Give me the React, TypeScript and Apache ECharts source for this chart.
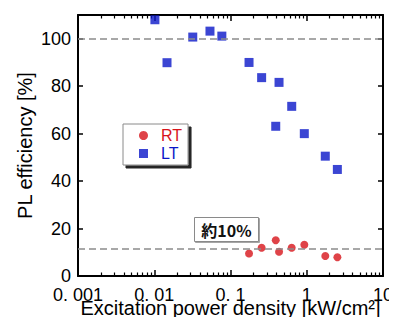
import React, { useEffect, useRef } from "react";
import * as echarts from "echarts";

// ---- data ----
const ltPower = [0.0102, 0.0147, 0.032, 0.0538, 0.077, 0.175, 0.256, 0.433, 0.635, 0.392, 0.929, 1.75, 2.52];
const ltEfficiency = [108.0, 89.9, 100.7, 103.2, 101.1, 90.0, 83.6, 81.6, 71.5, 63.1, 60.0, 50.5, 44.9];

const rtPower = [0.175, 0.256, 0.392, 0.433, 0.635, 0.929, 1.75, 2.52];
const rtEfficiency = [9.5, 11.9, 15.1, 10.2, 11.9, 13.2, 8.4, 7.9];

const refLevels = [100, 11.4];

const xTickExponents = [-3, -2, -1, 0, 1];
const xTickLabels = ["0. 001", "0. 01", "0. 1", "1", "10"];
const yTickLabels = ["0", "20", "40", "60", "80", "100"];

const annotationText = "約10%";

const RED = "#d7141a";
const BLUE = "#0a16c8";
const FONT = "'Liberation Sans', Arial, sans-serif";

function xLabel(v: number): string {
  const e = Math.round(Math.log10(v));
  const i = xTickExponents.indexOf(e);
  return i >= 0 ? xTickLabels[i] : "";
}

function makeX() {
  return {
    type: "log" as const,
    logBase: 10,
    min: 0.001,
    max: 10,
    splitLine: { show: false },
    axisLine: { show: true, onZero: false, lineStyle: { color: "#000", width: 2 } },
    axisTick: { show: true, inside: true, length: 6, lineStyle: { color: "#000", width: 1.5 } },
    minorTick: { show: true, splitNumber: 9, length: 3.5, lineStyle: { color: "#000", width: 1.2 } },
    minorSplitLine: { show: false },
  };
}
function makeY() {
  return {
    type: "value" as const,
    min: 0,
    max: 110,
    interval: 20,
    splitLine: { show: false },
    axisLine: { show: true, onZero: false, lineStyle: { color: "#000", width: 2 } },
    axisTick: { show: true, inside: true, length: 5, lineStyle: { color: "#000", width: 1.5 } },
  };
}

export default function App() {
  const ref = useRef<HTMLDivElement>(null);

  useEffect(() => {
    if (!ref.current) return;
    const chart = echarts.init(ref.current, null, { renderer: "svg" });

    chart.setOption({
      animation: false,
      backgroundColor: "#fff",
      grid: { left: 78, right: 14, top: 15, bottom: 49, containLabel: false, outerBoundsMode: "none" },
      xAxis: [
        {
          ...makeX(),
          position: "bottom",
          name: "Excitation power density [kW/cm²]",
          nameLocation: "middle",
          nameGap: 22,
          nameMoveOverlap: false,
          nameTextStyle: { color: "#000", fontSize: 20, fontFamily: FONT },
          axisLabel: {
            color: "#000",
            fontSize: 18,
            fontFamily: FONT,
            margin: 10,
            formatter: (v: number) => xLabel(v),
          },
        },
        {
          ...makeX(),
          position: "top",
          axisLabel: { show: false },
        },
      ],
      yAxis: [
        {
          ...makeY(),
          position: "left",
          name: "PL efficiency [%]",
          nameLocation: "middle",
          nameGap: 43,
          nameMoveOverlap: false,
          nameTextStyle: { color: "#000", fontSize: 20, fontFamily: FONT },
          axisLabel: {
            color: "#000",
            fontSize: 18,
            fontFamily: FONT,
            margin: 7,
            showMaxLabel: false,
            formatter: (v: number) => {
              const i = Math.round(v / 20);
              return Math.abs(v - i * 20) < 1e-6 && i < yTickLabels.length ? yTickLabels[i] : "";
            },
          },
        },
        {
          ...makeY(),
          position: "right",
          axisLabel: { show: false },
        },
      ],
      legend: {
        orient: "vertical",
        left: 123,
        top: 124,
        padding: [3, 6, 3, 16],
        itemWidth: 9,
        itemHeight: 9,
        itemGap: 1,
        selectedMode: false,
        backgroundColor: "#fff",
        borderColor: "#8a8a8a",
        borderWidth: 1,
        shadowColor: "rgba(0,0,0,0.85)",
        shadowBlur: 1,
        shadowOffsetX: 3,
        shadowOffsetY: 3,
        textStyle: {
          fontSize: 16,
          lineHeight: 17,
          padding: [0, 0, 0, 8],
          fontFamily: FONT,
        },
        data: [
          { name: "RT", icon: "circle", textStyle: { color: RED } },
          { name: "LT", icon: "rect", textStyle: { color: BLUE } },
        ],
      },
      graphic: [
        {
          type: "group",
          left: 194,
          top: 217,
          z: 100,
          children: [
            {
              type: "rect",
              shape: { x: 0, y: 0, width: 64, height: 24 },
              style: {
                fill: "#fff",
                stroke: "#8a8a8a",
                lineWidth: 1,
                shadowColor: "rgba(0,0,0,0.35)",
                shadowBlur: 1,
                shadowOffsetX: 1,
                shadowOffsetY: 1,
              },
            },
            {
              type: "text",
              x: 32,
              y: 12,
              style: {
                text: annotationText,
                fill: "#111",
                font: "bold 16px 'Noto Sans CJK JP', sans-serif",
                align: "center",
                verticalAlign: "middle",
              },
            },
          ],
        },
      ],
      series: [
        {
          name: "LT",
          type: "scatter",
          xAxisIndex: 0,
          yAxisIndex: 0,
          symbol: "rect",
          symbolSize: 9,
          itemStyle: { color: BLUE },
          data: ltPower.map((x, i) => [x, ltEfficiency[i]]),
          markLine: {
            silent: true,
            symbol: "none",
            label: { show: false },
            lineStyle: { color: "#8c8c8c", type: [7, 4], width: 1.5 },
            data: refLevels.map((y) => ({ yAxis: y })),
          },
        },
        {
          name: "RT",
          type: "scatter",
          xAxisIndex: 0,
          yAxisIndex: 0,
          symbol: "circle",
          symbolSize: 8,
          itemStyle: { color: RED },
          data: rtPower.map((x, i) => [x, rtEfficiency[i]]),
        },
      ],
    });

    return () => chart.dispose();
  }, []);

  return <div ref={ref} style={{ width: 397, height: 325, margin: -8 }} />;
}
